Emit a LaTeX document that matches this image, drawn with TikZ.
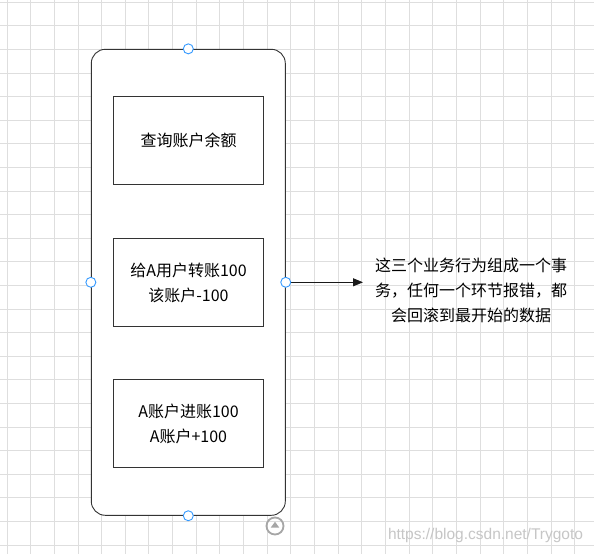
\documentclass[tikz,border=0pt]{standalone}
\usepackage{fontspec}
\setmainfont{Noto Sans CJK SC}
\newfontfamily\wmfont{Liberation Sans}
\usetikzlibrary{arrows.meta}
\definecolor{gridgray}{HTML}{DEDEDE}
\definecolor{handleblue}{HTML}{3399FF}
\definecolor{boxline}{HTML}{333333}
\tikzset{
  stepbox/.style={draw=boxline, line width=0.9pt, fill=white, minimum width=150, minimum height=88, align=center},
  handle/.style={circle, draw=handleblue, line width=0.9pt, fill=white, minimum size=10, inner sep=0pt},
}

\begin{document}
\begin{tikzpicture}[x=1pt, y=-1pt, every node/.style={font=\fontsize{16}{25}\selectfont, text=black}]
				% Background and grid
				\useasboundingbox (0,0) rectangle (594,554);
				\fill[white] (0,0) rectangle (594,554);
				\foreach \i in {0,...,24} \draw[gridgray, line width=0.9pt] ({7+23.65*\i},0) -- ({7+23.65*\i},554);
				\foreach \j in {0,...,23} \draw[gridgray, line width=0.9pt] (0,{2.3+23.6*\j}) -- (594,{2.3+23.6*\j});
				
				% Container
				\node[draw=boxline, line width=0.9pt, fill=white, rounded corners=14, minimum width=194, minimum height=466] (group) at (188.3,282.3) {};
				
				% Three steps
				\node[stepbox] (query) at (188.5,140.2) {查询账户余额};
				\node[stepbox] (transfer) at (188.5,282.5) {给A用户转账100\\该账户-100};
				\node[stepbox] (receive) at (188.5,423.8) {A账户进账100\\A账户+100};
				
				% Note on the right
				\node[anchor=west, inner xsep=12, align=center] (note) at (363,290) {这三个业务行为组成一个事\\务，任何一个环节报错，都\\会回滚到最开始的数据};
				\draw[black!90, line width=0.9pt, -{Triangle[length=10pt, width=8pt]}] (group.east) -- (group.east -| note.west);
				
				% Handles
				\node[handle] (hn) at (group.north) {};
				\node[handle] (hw) at (group.west) {};
				\node[handle] (he) at (group.east) {};
				\node[handle] (hs) at (group.south) {};
				
				% Collapse icon
				\draw[gray!70, line width=1.8pt] (275,526) circle (8.5);
				\fill[gray!70] (270.8,527.5) -- (279.2,527.5) -- (275,521.8) -- cycle;
				
				% Watermark
				\node[font=\wmfont\fontsize{15.5}{15.5}\selectfont, text=gray!45] (wm) at (485.5,535) {https://blog.csdn.net/Trygoto};
			\end{tikzpicture}
\end{document}
